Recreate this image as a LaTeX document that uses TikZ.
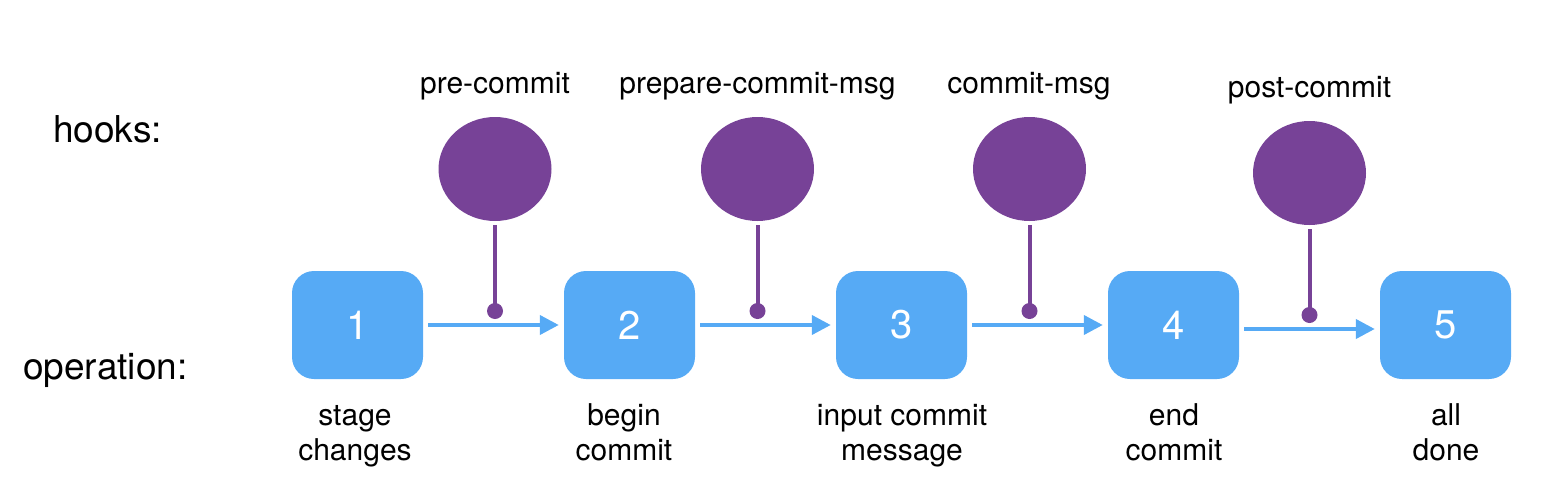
\documentclass[tikz,border=0pt]{standalone}
\usepackage{fontspec}
\setmainfont{TeX Gyre Heros}
\usetikzlibrary{arrows.meta,shapes.geometric}
\definecolor{opblue}{HTML}{56AAF5}
\definecolor{hookpurple}{HTML}{774297}
\begin{document}
\begin{tikzpicture}[x=1pt,y=-1pt,
  opbox/.style={fill=opblue, rounded corners=22pt, minimum width=131pt, minimum height=108pt, inner sep=0pt, text=white, font=\fontsize{40}{44}\selectfont},
  hook/.style={ellipse, fill=hookpurple, minimum width=113pt, minimum height=104pt, inner sep=0pt},
  dotnode/.style={circle, fill=hookpurple, minimum size=16pt, inner sep=0pt},
  stem/.style={draw=hookpurple, line width=4pt, shorten <=4pt},
  flow/.style={draw=opblue, line width=4pt, -{Triangle[length=19pt,width=19pt]}, shorten <=5pt, shorten >=5pt},
  hooklabel/.style={font=\fontsize{30}{36}\selectfont, anchor=base, inner sep=0pt},
  oplabel/.style={font=\fontsize{30}{35}\selectfont, align=center, anchor=base, inner sep=0pt},
  sidelabel/.style={font=\fontsize{37}{44}\selectfont, anchor=base west, inner sep=0pt}
]
\useasboundingbox (0,0) rectangle (1559,501);

% side labels
\node[sidelabel] (hooks) at (53,142) {hooks:};
\node[sidelabel] (operation) at (23,379) {operation:};

% operation boxes
\node[opbox] (b1) at (357.5,325) {1};
\node[opbox] (b2) at (629.5,325) {2};
\node[opbox] (b3) at (901.5,325) {3};
\node[opbox] (b4) at (1173.5,325) {4};
\node[opbox] (b5) at (1445.5,325) {5};

% operation labels (base = last line)
\node[oplabel] (l1) at (355,460) {stage\\changes};
\node[oplabel] (l2) at (624,460) {begin\\commit};
\node[oplabel] (l3) at (902,460) {input commit\\message};
\node[oplabel] (l4) at (1174,460) {end\\commit};
\node[oplabel] (l5) at (1446,460) {all\\done};

% hooks
\node[hook] (h1) at (495,169) {};
\node[hook] (h2) at (757.5,169) {};
\node[hook] (h3) at (1029.5,169) {};
\node[hook] (h4) at (1309.5,173) {};

\node[hooklabel] (t1) at (495,93) {pre-commit};
\node[hooklabel] (t2) at (757.5,93) {prepare-commit-msg};
\node[hooklabel] (t3) at (1029,93) {commit-msg};
\node[hooklabel] (t4) at (1309.5,97) {post-commit};

% dots
\node[dotnode] (d1) at (495,311) {};
\node[dotnode] (d2) at (757.5,311) {};
\node[dotnode] (d3) at (1029.5,311) {};
\node[dotnode] (d4) at (1309.5,315) {};

% stems
\draw[stem] (h1) -- (d1.center);
\draw[stem] (h2) -- (d2.center);
\draw[stem] (h3) -- (d3.center);
\draw[stem] (h4) -- (d4.center);

% flow arrows
\draw[flow] (b1) -- (b2);
\draw[flow] (b2) -- (b3);
\draw[flow] (b3) -- (b4);
\draw[flow] ([yshift=-4pt]b4.east) -- ([yshift=-4pt]b5.west);
\end{tikzpicture}
\end{document}
